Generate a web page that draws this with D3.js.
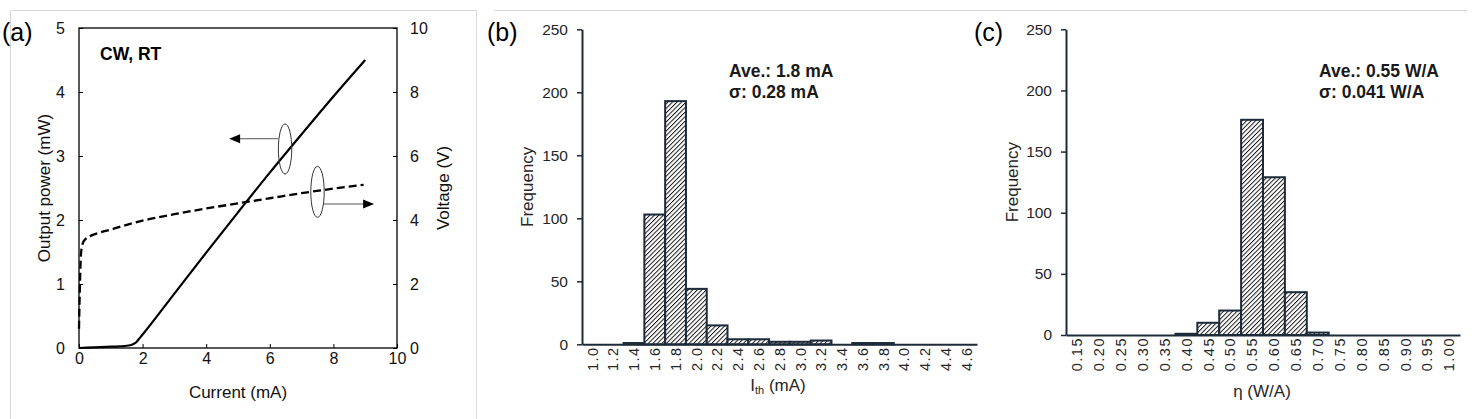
<!DOCTYPE html>
<html>
<head>
<meta charset="utf-8">
<script src="https://cdn.jsdelivr.net/npm/d3@7"></script>
<style>
  body { margin: 0; background: #fff; }
  svg { display: block; font-family: "Liberation Sans", Arial, sans-serif; }
</style>
</head>
<body>
<div id="chart-area"></div>
<script>
// ---- data ----
// (a) L-I and V-I curves
var liCurrent = [0, 0.5, 1.0, 1.5, 1.7, 1.8, 1.9, 2.0, 3.0, 4.0, 5.0, 6.0, 7.0, 8.0, 9.0];
var liPower   = [0, 0.01, 0.02, 0.035, 0.06, 0.09, 0.15, 0.21, 0.85, 1.49, 2.12, 2.74, 3.34, 3.93, 4.5];
var viCurrent = [0, 0.03, 0.06, 0.09, 0.13, 0.2, 0.4, 0.7, 1.0, 1.5, 2.0, 3.0, 4.0, 5.0, 6.0, 7.0, 8.0, 8.95];
var viVoltage = [0.6, 2.0, 2.9, 3.15, 3.3, 3.4, 3.52, 3.62, 3.7, 3.85, 3.98, 4.18, 4.36, 4.52, 4.68, 4.84, 4.98, 5.1];
var currentTicks = [0, 2, 4, 6, 8, 10];
var powerTicks = [0, 1, 2, 3, 4, 5];
var voltTicks = [0, 2, 4, 6, 8, 10];

// (b) threshold current histogram
var ithBins = ["1.0", "1.2", "1.4", "1.6", "1.8", "2.0", "2.2", "2.4", "2.6", "2.8",
               "3.0", "3.2", "3.4", "3.6", "3.8", "4.0", "4.2", "4.4", "4.6"];
var ithCounts = [0, 0, 1, 103, 193, 44, 15, 4, 4, 2, 2, 3, 0, 1, 1, 0, 0, 0, 0];

// (c) slope efficiency histogram
var etaBins = ["0.15", "0.20", "0.25", "0.30", "0.35", "0.40", "0.45", "0.50", "0.55",
               "0.60", "0.65", "0.70", "0.75", "0.80", "0.85", "0.90", "0.95", "1.00"];
var etaCounts = [0, 0, 0, 0, 0, 1, 10, 20, 176, 129, 35, 2, 0, 0, 0, 0, 0, 0];
var freqTicks = [0, 50, 100, 150, 200, 250];

var navy = "#1c2a3a";
var ink = "#262626";

var svg = d3.select("#chart-area")
    .append("svg")
    .attr("width", 1476)
    .attr("height", 419);

// hatch pattern for the bars
var pat = svg.append("defs").append("pattern")
    .attr("id", "hatch")
    .attr("patternUnits", "userSpaceOnUse")
    .attr("width", 3.2)
    .attr("height", 3.2)
    .attr("patternTransform", "rotate(45)");
pat.append("rect").attr("width", 3.2).attr("height", 3.2).attr("fill", "#fff");
pat.append("line")
    .attr("x1", 0).attr("y1", 0).attr("x2", 0).attr("y2", 3.2)
    .attr("stroke", "#111").attr("stroke-width", 1.9);

// light frames
svg.append("path")
    .attr("d", "M10.5,419 L10.5,10.5 L476.5,10.5 L476.5,419")
    .attr("fill", "none").attr("stroke", "#d9d9d9");
svg.append("line")
    .attr("x1", 494).attr("x2", 1467).attr("y1", 10.5).attr("y2", 10.5)
    .attr("stroke", "#d9d9d9");

// ================= (a) =================
var xA = d3.scaleLinear().domain([0, 10]).range([79, 397]);
var yP = d3.scaleLinear().domain([0, 5]).range([348, 28]);
var yV = d3.scaleLinear().domain([0, 10]).range([348, 28]);

var ga = svg.append("g");

ga.append("rect")
    .attr("x", xA(0)).attr("y", yP(5))
    .attr("width", xA(10) - xA(0)).attr("height", yP(0) - yP(5))
    .attr("fill", "none").attr("stroke", "#000").attr("stroke-width", 1.3);

function styleA(sel) {
    sel.select(".domain").remove();
    sel.selectAll(".tick line").attr("stroke", "#000");
    sel.selectAll(".tick text").attr("fill", "#111").attr("font-size", "16px");
}

ga.append("g")
    .attr("transform", "translate(0," + yP(0) + ")")
    .call(d3.axisBottom(xA).tickValues(currentTicks).tickFormat(d3.format("d"))
        .tickSizeInner(-4).tickSizeOuter(0).tickPadding(5))
    .call(styleA);

ga.append("g")
    .attr("transform", "translate(" + xA(0) + ",0)")
    .call(d3.axisLeft(yP).tickValues(powerTicks).tickFormat(d3.format("d"))
        .tickSizeInner(-4).tickSizeOuter(0).tickPadding(14))
    .call(styleA);

ga.append("g")
    .attr("transform", "translate(" + xA(10) + ",0)")
    .call(d3.axisRight(yV).tickValues(voltTicks).tickFormat(d3.format("d"))
        .tickSizeInner(-4).tickSizeOuter(0).tickPadding(13))
    .call(styleA);

var liLine = d3.line()
    .x(function (d, i) { return xA(liCurrent[i]); })
    .y(function (d) { return yP(d); })
    .curve(d3.curveMonotoneX);
ga.append("path")
    .attr("d", liLine(liPower))
    .attr("fill", "none").attr("stroke", "#000").attr("stroke-width", 2.2);

var viLine = d3.line()
    .x(function (d, i) { return xA(viCurrent[i]); })
    .y(function (d) { return yV(d); })
    .curve(d3.curveMonotoneX);
ga.append("path")
    .attr("d", viLine(viVoltage))
    .attr("fill", "none").attr("stroke", "#000").attr("stroke-width", 2.3)
    .attr("stroke-dasharray", "8,4");

// ellipses and arrows pointing to the axes
ga.append("ellipse")
    .attr("cx", xA(6.48)).attr("cy", yP(3.11)).attr("rx", 6.7).attr("ry", 25)
    .attr("fill", "none").attr("stroke", "#333").attr("stroke-width", 1);
ga.append("ellipse")
    .attr("cx", xA(7.5)).attr("cy", yV(4.88)).attr("rx", 6.7).attr("ry", 25.5)
    .attr("fill", "none").attr("stroke", "#333").attr("stroke-width", 1);

var arrows = [
    { x1: 6.26, x2: 4.72, y: yP(3.27) },
    { x1: 7.7, x2: 9.28, y: yV(4.5) }
];
arrows.forEach(function (a) {
    var dir = a.x2 > a.x1 ? 1 : -1;
    var tip = xA(a.x2);
    ga.append("line")
        .attr("x1", xA(a.x1)).attr("x2", tip - dir * 9)
        .attr("y1", a.y).attr("y2", a.y)
        .attr("stroke", "#555").attr("stroke-width", 1);
    ga.append("path")
        .attr("d", "M" + tip + "," + a.y + " L" + (tip - dir * 11) + "," + (a.y - 4.5) +
              " L" + (tip - dir * 11) + "," + (a.y + 4.5) + " Z")
        .attr("fill", "#000");
});

ga.append("text")
    .attr("x", 100).attr("y", 60)
    .attr("font-size", "17.5px").attr("font-weight", "bold")
    .text("CW, RT");

ga.append("text")
    .attr("x", (xA(0) + xA(10)) / 2).attr("y", 398)
    .attr("text-anchor", "middle").attr("font-size", "17px").attr("fill", "#111")
    .text("Current (mA)");

ga.append("text")
    .attr("transform", "translate(50," + (yP(0) + yP(5)) / 2 + ") rotate(-90)")
    .attr("text-anchor", "middle").attr("font-size", "17px").attr("fill", "#111")
    .text("Output power (mW)");

ga.append("text")
    .attr("transform", "translate(449," + (yP(0) + yP(5)) / 2 + ") rotate(-90)")
    .attr("text-anchor", "middle").attr("font-size", "17px").attr("fill", "#111")
    .text("Voltage (V)");

ga.append("text")
    .attr("x", 2).attr("y", 41).attr("font-size", "25px")
    .text("(a)");

// ================= histograms =================
function histogram(opt) {
    var g = svg.append("g");
    var x = d3.scaleBand().domain(opt.bins).range([opt.left, opt.right]).padding(0);
    var y = d3.scaleLinear().domain([0, 250]).range([opt.bottom, opt.top]);

    g.selectAll("rect.bar")
        .data(opt.counts)
        .enter().append("rect")
        .attr("class", "bar")
        .attr("x", function (d, i) { return x(opt.bins[i]); })
        .attr("y", function (d) { return y(d); })
        .attr("width", x.bandwidth())
        .attr("height", function (d) { return y(0) - y(d); })
        .attr("fill", "url(#hatch)")
        .attr("stroke", navy)
        .attr("stroke-width", 2);

    var ya = g.append("g")
        .attr("transform", "translate(" + opt.left + ",0)")
        .call(d3.axisLeft(y).tickValues(freqTicks).tickSizeInner(5).tickSizeOuter(0).tickPadding(9));
    ya.select(".domain").attr("stroke", navy).attr("stroke-width", 2);
    ya.selectAll(".tick line").attr("stroke", navy).attr("stroke-width", 1.5);
    ya.selectAll(".tick text").attr("fill", ink).attr("font-size", "15.5px");

    var xa = g.append("g")
        .attr("transform", "translate(0," + opt.bottom + ")")
        .call(d3.axisBottom(x).tickSize(0).tickSizeOuter(0));
    xa.select(".domain").attr("stroke", navy).attr("stroke-width", 2);
    xa.selectAll(".tick text")
        .attr("fill", ink).attr("font-size", "14.5px")
        .attr("letter-spacing", "1.5px")
        .attr("transform", "rotate(-90)")
        .attr("text-anchor", "end")
        .attr("x", -2).attr("y", 0).attr("dy", "0.36em");

    g.append("text")
        .attr("transform", "translate(" + opt.yTitleX + "," + (opt.top + opt.bottom) / 2 + ") rotate(-90)")
        .attr("text-anchor", "middle").attr("font-size", "17px").attr("fill", ink)
        .text("Frequency");

    g.append("text")
        .attr("x", opt.panelX).attr("y", 41).attr("font-size", "25px")
        .text(opt.panel);

    opt.notes.forEach(function (t, i) {
        g.append("text")
            .attr("x", opt.noteX).attr("y", 77 + i * 20.5)
            .attr("font-size", "17.5px").attr("font-weight", "bold").attr("fill", "#1a1a1a")
            .text(t);
    });
    return g;
}

var gb = histogram({
    bins: ithBins, counts: ithCounts,
    left: 582, right: 977, top: 29.3, bottom: 344.3,
    yTitleX: 532.5, panel: "(b)", panelX: 487, noteX: 729,
    notes: ["Ave.: 1.8 mA", "σ: 0.28 mA"]
});
var ith = gb.append("text")
    .attr("x", 778).attr("y", 391)
    .attr("text-anchor", "middle").attr("font-size", "17px").attr("fill", ink);
ith.append("tspan").text("I");
ith.append("tspan").attr("font-size", "11px").attr("dy", 3).text("th");
ith.append("tspan").attr("dy", -3).text(" (mA)");

var gc = histogram({
    bins: etaBins, counts: etaCounts,
    left: 1066, right: 1460, top: 29.3, bottom: 335,
    yTitleX: 1017.5, panel: "(c)", panelX: 974, noteX: 1319,
    notes: ["Ave.: 0.55 W/A", "σ: 0.041 W/A"]
});
gc.append("text")
    .attr("x", 1262).attr("y", 397)
    .attr("text-anchor", "middle").attr("font-size", "17px").attr("fill", ink)
    .text("η (W/A)");
</script>
</body>
</html>
